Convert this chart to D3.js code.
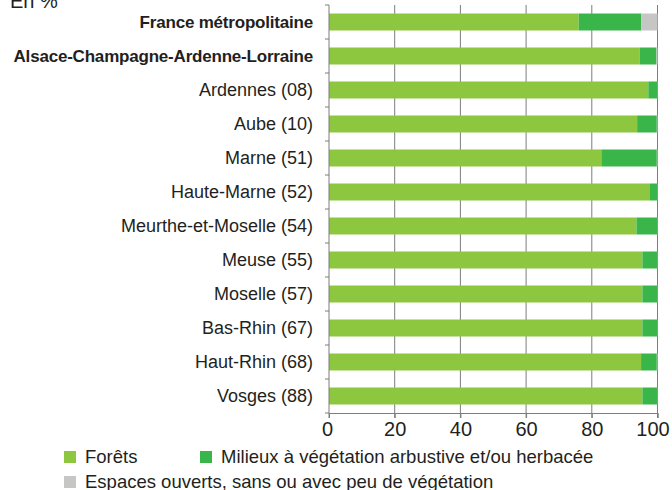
<!DOCTYPE html>
<html>
<head>
<meta charset="utf-8">
<script src="https://cdn.jsdelivr.net/npm/d3@7"></script>
<style>
  body { margin: 0; background: #fff; }
  text { font-family: "Liberation Sans", Arial, sans-serif; fill: #231f20; }
</style>
</head>
<body>
<div id="chart"></div>
<script>
const categories = [
  "France métropolitaine", "Alsace-Champagne-Ardenne-Lorraine", "Ardennes (08)", "Aube (10)",
  "Marne (51)", "Haute-Marne (52)", "Meurthe-et-Moselle (54)", "Meuse (55)",
  "Moselle (57)", "Bas-Rhin (67)", "Haut-Rhin (68)", "Vosges (88)"
];
const boldCategories = ["France métropolitaine", "Alsace-Champagne-Ardenne-Lorraine"];
const forets   = [76.0, 94.6, 97.2, 93.8, 82.9, 97.7, 93.6, 95.4, 95.4, 95.4, 95.0, 95.4];
const milieux  = [19.0,  5.1,  2.7,  6.0, 16.9,  2.2,  6.3,  4.5,  4.5,  4.5,  4.8,  4.5];
const espaces  = [ 5.0,  0.3,  0.1,  0.2,  0.2,  0.1,  0.1,  0.1,  0.1,  0.1,  0.2,  0.1];
const xTicks = [0, 20, 40, 60, 80, 100];
const seriesNames = ["Forêts", "Milieux à végétation arbustive et/ou herbacée", "Espaces ouverts, sans ou avec peu de végétation"];
const colors = ["#8dc63f", "#39b54a", "#c6c6c5"];

const width = 672, height = 490;
const svg = d3.select("#chart").append("svg").attr("width", width).attr("height", height);

const x = d3.scaleLinear().domain([0, 100]).range([329, 657.5]);
const y = d3.scaleBand().domain(categories).range([5, 413]).paddingInner(0.5).paddingOuter(0.25);

const rows = categories.map((c, i) => ({ cat: c, v: [forets[i], milieux[i], espaces[i]] }));
const stacked = d3.stack().keys([0, 1, 2]).value((d, k) => d.v[k])(rows);

// "En %"
svg.append("text").attr("x", 10).attr("y", 8).style("font-size", "20px").text("En %");

// gridlines
svg.append("g").selectAll("line").data(xTicks.slice(1)).join("line")
  .attr("x1", d => x(d)).attr("x2", d => x(d))
  .attr("y1", 5).attr("y2", 418)
  .attr("stroke", "#7d7d7d").attr("stroke-width", 1);

// bars
svg.append("g").selectAll("g").data(stacked).join("g")
  .attr("fill", (d, i) => colors[i])
  .selectAll("rect").data(d => d).join("rect")
  .attr("x", d => x(d[0]))
  .attr("width", d => x(d[1]) - x(d[0]))
  .attr("y", d => y(d.data.cat))
  .attr("height", y.bandwidth());

// left axis
const gap = y.step() * y.paddingInner() / 2;
const yAxis = svg.append("g").attr("stroke", "#7d7d7d");
yAxis.append("line").attr("x1", x(0)).attr("x2", x(0)).attr("y1", 5).attr("y2", 418);
yAxis.selectAll("line.t").data(categories.concat([null])).join("line").attr("class", "t")
  .attr("x1", x(0) - 4).attr("x2", x(0))
  .attr("y1", (d, i) => d ? y(d) - gap : y(categories[categories.length - 1]) + y.bandwidth() + gap)
  .attr("y2", (d, i) => d ? y(d) - gap : y(categories[categories.length - 1]) + y.bandwidth() + gap);

// category labels
svg.append("g").selectAll("text").data(categories).join("text")
  .attr("x", 313)
  .attr("y", d => y(d) + y.bandwidth() / 2)
  .attr("dy", "0.35em")
  .attr("text-anchor", "end")
  .style("font-size", d => boldCategories.includes(d) ? "17px" : "18px")
  .style("font-weight", d => boldCategories.includes(d) ? "bold" : "normal")
  .style("letter-spacing", d => boldCategories.includes(d) ? "-0.2px" : "0px")
  .text(d => d);

// bottom axis
const xAxis = svg.append("g").attr("transform", "translate(0,413)")
  .call(d3.axisBottom(x).tickValues(xTicks).tickSize(5).tickPadding(4));
xAxis.select(".domain").attr("stroke", "#7d7d7d");
xAxis.selectAll(".tick line").attr("stroke", "#7d7d7d");
xAxis.selectAll(".tick text")
  .style("font-size", "20px")
  .style("font-family", "'Liberation Sans', Arial, sans-serif")
  .attr("fill", "#231f20")
  .attr("dx", d => d === 100 ? -5 : d === 0 ? -2 : 0);

// legend
const legendPos = [[64, 457], [200, 457], [64, 482]];
const legend = svg.append("g").selectAll("g").data(seriesNames).join("g")
  .attr("transform", (d, i) => `translate(${legendPos[i][0]},${legendPos[i][1]})`);
legend.append("rect").attr("x", 0).attr("y", -6).attr("width", 12).attr("height", 12)
  .attr("fill", (d, i) => colors[i]);
legend.append("text").attr("x", 21).attr("y", 0).attr("dy", "0.35em")
  .style("font-size", "18.5px").text(d => d);
</script>
</body>
</html>
